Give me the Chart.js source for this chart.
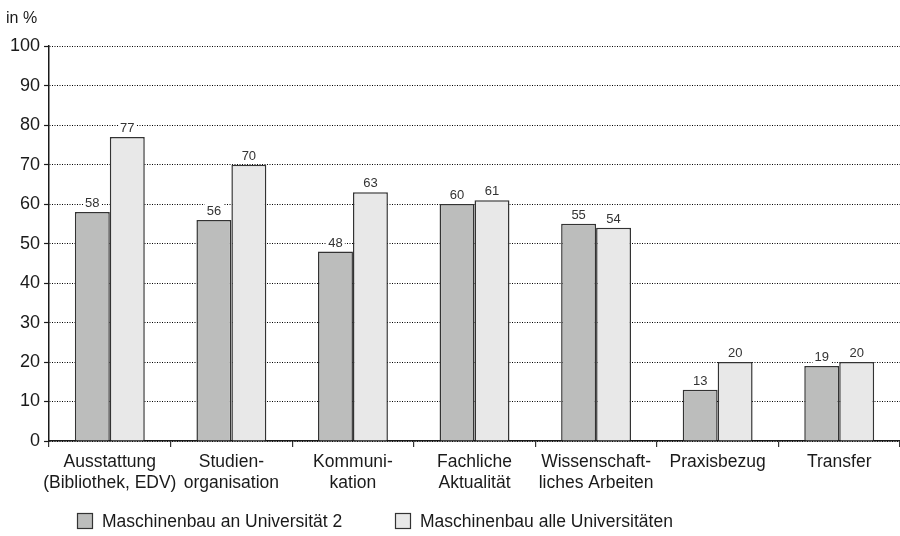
<!DOCTYPE html>
<html>
<head>
<meta charset="utf-8">
<script src="https://cdn.jsdelivr.net/npm/chart.js@4"></script>
<style>
  html, body { margin: 0; padding: 0; background: #fff; }
  #wrap { width: 900px; height: 536px; }
</style>
</head>
<body>
<div id="wrap"><canvas id="bewertung"></canvas></div>
<script>
const FONT = "'Liberation Sans Narrow', 'Arial Narrow', 'Liberation Sans', sans-serif";

// categories (two-line labels)
const kategorien = [
    ['Ausstattung', '(Bibliothek, EDV)'],
    ['Studien-', 'organisation'],
    ['Kommuni-', 'kation'],
    ['Fachliche', 'Aktualität'],
    ['Wissenschaft-', 'liches Arbeiten'],
    ['Praxisbezug'],
    ['Transfer']
];
const uni2 = [58, 56, 48, 60, 55, 13, 19];
const alleUnis = [77, 70, 63, 61, 54, 20, 20];
const serienNamen = ['Maschinenbau an Universität 2', 'Maschinenbau alle Universitäten'];
const yTicks = [0, 10, 20, 30, 40, 50, 60, 70, 80, 90, 100];

// value labels above each bar, with a white patch so the dotted grid stops behind them
const wertLabels = {
    id: 'wertLabels',
    afterDatasetsDraw(chart) {
        const ctx = chart.ctx;
        ctx.save();
        ctx.font = '13px ' + FONT;
        ctx.textAlign = 'center';
        ctx.textBaseline = 'bottom';
        chart.data.datasets.forEach((ds, i) => {
            chart.getDatasetMeta(i).data.forEach((bar, j) => {
                const txt = String(ds.data[j]);
                const w = ctx.measureText(txt).width;
                const y = bar.y - 3;
                ctx.fillStyle = '#fff';
                ctx.fillRect(bar.x - w / 2 - 2, y - 13, w + 4, 13);
                ctx.fillStyle = '#333';
                ctx.fillText(txt, bar.x, y + 1);
            });
        });
        ctx.restore();
    }
};

// legend row under the axis labels
const legende = {
    id: 'legende',
    afterDraw(chart) {
        const ctx = chart.ctx;
        const xs = [77, 395];
        const y = 521;
        ctx.save();
        ctx.font = '17.5px ' + FONT;
        ctx.textBaseline = 'middle';
        chart.data.datasets.forEach((ds, i) => {
            ctx.fillStyle = ds.backgroundColor;
            ctx.fillRect(xs[i], y - 8, 15, 15);
            ctx.strokeStyle = '#333';
            ctx.lineWidth = 1.2;
            ctx.strokeRect(xs[i] + 0.5, y - 7.5, 15, 15);
            ctx.fillStyle = '#1a1a1a';
            ctx.fillText(ds.label, xs[i] + 25, y + 1);
        });
        ctx.restore();
    }
};

const ctx = document.getElementById('bewertung').getContext('2d');
new Chart(ctx, {
    type: 'bar',
    data: {
        labels: kategorien,
        datasets: [{
            label: serienNamen[0],
            data: uni2,
            backgroundColor: '#bcbdbc',
            borderColor: '#333',
            borderWidth: 1.5,
            categoryPercentage: 0.575,
            barPercentage: 1
        }, {
            label: serienNamen[1],
            data: alleUnis,
            backgroundColor: '#e8e8e8',
            borderColor: '#333',
            borderWidth: 1.5,
            categoryPercentage: 0.575,
            barPercentage: 1
        }]
    },
    options: {
        responsive: true,
        maintainAspectRatio: false,
        animation: false,
        layout: { padding: { left: 6, right: 0, top: 0, bottom: 37 } },
        plugins: {
            legend: { display: false },
            tooltip: { enabled: false },
            title: {
                display: true,
                text: 'in %',
                align: 'start',
                color: '#1a1a1a',
                font: { family: FONT, size: 16, weight: 'normal' },
                padding: { top: 9, bottom: 18 }
            }
        },
        scales: {
            x: {
                offset: true,
                grid: {
                    display: true,
                    offset: true,
                    drawOnChartArea: false,
                    tickLength: 6,
                    color: '#333',
                    lineWidth: 1.2
                },
                border: { color: '#1a1a1a', width: 1.5 },
                ticks: {
                    color: '#1a1a1a',
                    padding: 5,
                    maxRotation: 0,
                    autoSkip: false,
                    font: { family: FONT, size: 17.5, lineHeight: 1.2 }
                }
            },
            y: {
                min: 0,
                max: 100,
                afterBuildTicks(scale) {
                    scale.ticks = yTicks.map(v => ({ value: v }));
                },
                grid: {
                    color: '#000',
                    lineWidth: 1,
                    tickLength: 5,
                    tickColor: '#1a1a1a',
                    tickBorderDash: [],
                    tickWidth: 1.2
                },
                border: { color: '#1a1a1a', width: 1.5, dash: [1, 1.5] },
                ticks: {
                    color: '#1a1a1a',
                    padding: 4,
                    font: { family: FONT, size: 18 }
                }
            }
        }
    },
    plugins: [wertLabels, legende]
});
</script>
</body>
</html>
